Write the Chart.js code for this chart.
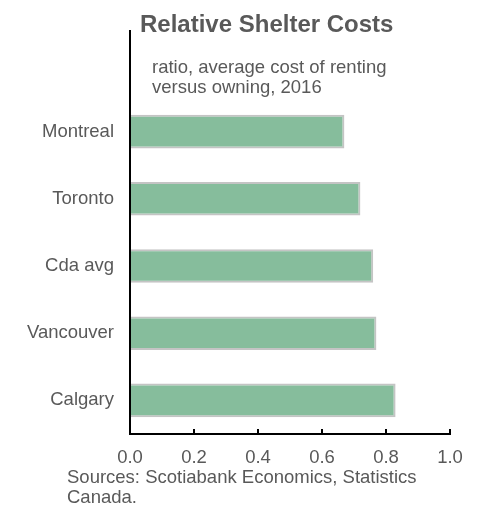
<!DOCTYPE html>
<html>
<head>
<meta charset="utf-8">
<title>Relative Shelter Costs</title>
<script src="https://cdn.jsdelivr.net/npm/chart.js@4.4.1/dist/chart.umd.min.js"></script>
<style>
  body { margin: 0; background: #fff; }
  canvas { display: block; }
</style>
</head>
<body>
<canvas id="bar" width="477" height="507"></canvas>
<script>
let cities = ["Montreal", "Toronto", "Cda avg", "Vancouver", "Calgary"];
let ratios = [0.67, 0.72, 0.76, 0.77, 0.83];
let xTicks = [0, 0.2, 0.4, 0.6, 0.8, 1.0];

let titleText = "Relative Shelter Costs";
let subtitleLines = ["ratio, average cost of renting", "versus owning, 2016"];
let sourceLines = ["Sources: Scotiabank Economics, Statistics", "Canada."];

let grey = "#595959";
let font = "'Liberation Sans', Arial, sans-serif";

// title, subtitle, source note and the y axis line (it runs up past the bars)
let textPlugin = {
  id: "texts",
  afterDraw(chart) {
    let ctx = chart.ctx;
    let area = chart.chartArea;
    ctx.save();
    ctx.strokeStyle = "#000";
    ctx.lineWidth = 2;
    ctx.beginPath();
    ctx.moveTo(area.left, 30);
    ctx.lineTo(area.left, area.bottom + 1);
    ctx.stroke();

    ctx.fillStyle = grey;
    ctx.textAlign = "left";
    ctx.textBaseline = "alphabetic";
    ctx.font = "bold 24px " + font;
    ctx.fillText(titleText, 140, 32);

    ctx.font = "18.5px " + font;
    subtitleLines.forEach((t, i) => ctx.fillText(t, 152, 73 + i * 19.5));
    sourceLines.forEach((t, i) => ctx.fillText(t, 67, 483 + i * 20));
    ctx.restore();
  }
};

let ctx = document.getElementById("bar").getContext("2d");
let myChart = new Chart(ctx, {
  type: "bar",
  data: {
    labels: cities,
    datasets: [{
      label: "Ratio",
      data: ratios,
      backgroundColor: "#86bd9c",
      borderColor: "#c4c4c4",
      borderWidth: 2,
      barPercentage: 0.5,
      categoryPercentage: 1
    }]
  },
  options: {
    indexAxis: "y",
    responsive: false,
    animation: false,
    layout: { padding: { top: 98, right: 27, bottom: 0, left: 0 } },
    plugins: {
      legend: { display: false },
      tooltip: { enabled: false }
    },
    scales: {
      x: {
        type: "linear",
        min: 0,
        max: 1,
        afterBuildTicks: axis => { axis.ticks = xTicks.map(v => ({ value: v })); },
        afterFit: axis => {
          axis.height = 73;
          axis.paddingLeft = 0;
          axis.paddingRight = 0;
        },
        border: { display: true, color: "#000", width: 2 },
        grid: {
          drawOnChartArea: false,
          drawTicks: true,
          tickLength: -5,
          color: "#000",
          lineWidth: 2
        },
        ticks: {
          padding: 18,
          color: grey,
          font: { family: font, size: 18.5 },
          callback: v => v.toFixed(1)
        }
      },
      y: {
        afterFit: axis => { axis.width = 130; },
        border: { display: false },
        grid: { display: false, drawTicks: false },
        ticks: {
          padding: 16,
          color: grey,
          font: { family: font, size: 18.5 }
        }
      }
    }
  },
  plugins: [textPlugin]
});
</script>
</body>
</html>
